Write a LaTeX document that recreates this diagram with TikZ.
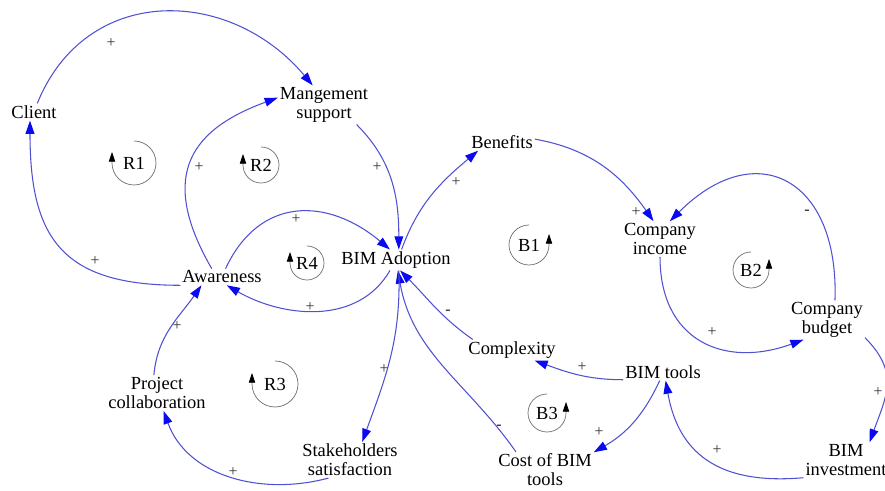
\documentclass[tikz,border=0pt]{standalone}
\usepackage{fontspec}
\setmainfont{Liberation Serif}
\usetikzlibrary{arrows.meta}

\definecolor{linkblue}{RGB}{80,80,210}
\definecolor{tipblue}{RGB}{10,10,240}
\definecolor{loopgray}{RGB}{110,110,110}

\begin{document}
\begin{tikzpicture}[x=0.2mm, y=0.2mm,
	var/.style={align=center, inner sep=1pt, font=\fontsize{10.5}{10.8}\selectfont},
	link/.style={draw=linkblue, line width=0.6pt, -{Triangle[length=7.5pt,width=5pt,color=tipblue]}},
	pol/.style={inner sep=0pt, font=\fontsize{9}{9}\selectfont, text=black!80},
	looplbl/.style={inner sep=0pt, font=\fontsize{10.5}{10.8}\selectfont},
	looparr/.style={draw=loopgray, line width=0.4pt, -{Triangle[length=5.5pt,width=3.6pt,color=black]}}]

	\useasboundingbox (0,0) rectangle (885,490);

	\node[var] (client) at (34,378) {Client};
	\node[var] (mgmt) at (324,385) {Mangement\\support};
	\node[var] (benefits) at (502,348) {Benefits};
	\node[var] (adopt) at (396,230) {BIM Adoption};
	\node[var] (aware) at (222,213) {Awareness};
	\node[var] (income) at (660,251) {Company\\income};
	\node[var] (budget) at (827,170) {Company\\budget};
	\node[var] (complex) at (512,140) {Complexity};
	\node[var] (tools) at (663,118) {BIM tools};
	\node[var] (collab) at (157,97) {Project\\collaboration};
	\node[var] (stake) at (350,30) {Stakeholders\\satisfaction};
	\node[var] (cost) at (545,20) {Cost of BIM\\tools};
	\node[var] (invest) at (846,30) {BIM\\investment};

	\draw[link] (client.69) to[out=68, in=130, looseness=1.2] (mgmt.120);
	\draw[link] (aware.south west) to[out=180, in=-90, looseness=1.35] (client.245);
	\draw[link] (aware.141) to[out=120, in=200, looseness=1.4] (mgmt.171);
	\draw[link] (mgmt.-31) to[out=-45, in=90] (adopt.75);
	\draw[link] (adopt.62) to[out=70, in=220] (benefits.200);
	\draw[link] (benefits.5) to[out=-10, in=125] (income.110);
	\draw[link] (budget.68) to[out=88, in=45, looseness=1.7] (income.61);
	\draw[link] (income.south) to[out=-90, in=200, looseness=1.3] (budget.220);
	\draw[link] (budget.-25) to[out=-45, in=70, looseness=1.2] (invest.37);
	\draw[link] (invest.south west) to[out=185, in=-80, looseness=1.2] (tools.-73);
	\draw[link] (tools.191) to[out=180, in=-20] (complex.-25);
	\draw[link] (tools.249) to[out=-115, in=30] (cost.20);
	\draw[link] (complex.165) to[out=145, in=-45] (adopt.-69);
	\draw[link] (cost.148) to[out=125, in=-80] (adopt.-80);
	\draw[link] (adopt.-75) to[out=-88, in=70] (stake.56);
	\draw[link] (stake.220) to[out=195, in=-70] (collab.-70);
	\draw[link] (collab.100) to[out=85, in=235] (aware.202);
	\draw[link] (aware.67) to[out=65, in=140, looseness=1.25] (adopt.120);
	\draw[link] (adopt.240) to[out=-120, in=-30] (aware.-60);

	\node[pol] (p1) at (111,447) {+};
	\node[pol] (p2) at (95,229) {+};
	\node[pol] (p3) at (199,323) {+};
	\node[pol] (p4) at (377,323) {+};
	\node[pol] (p5) at (456,308) {+};
	\node[pol] (p6) at (296,271) {+};
	\node[pol] (p7) at (310,183) {+};
	\node[pol] (p8) at (636,278) {+};
	\node[pol] (p9) at (807,278) {\bfseries -};
	\node[pol] (p10) at (712,158) {+};
	\node[pol] (p11) at (878,98) {+};
	\node[pol] (p12) at (717,40) {+};
	\node[pol] (p13) at (582,123) {+};
	\node[pol] (p14) at (599,58) {+};
	\node[pol] (p15) at (448,178) {\bfseries -};
	\node[pol] (p16) at (499,63) {\bfseries -};
	\node[pol] (p17) at (384,121) {+};
	\node[pol] (p18) at (233,18) {+};
	\node[pol] (p19) at (177,164) {+};

	\foreach \name/\x/\y/\r in {R1/134/327/22, R2/261/325/18, R4/307/227/17, R3/275/106/23} {
		\node[looplbl] (\name) at (\x,\y) {\name};
		\draw[looparr] (\name.center) ++(90:\r) arc[start angle=90, end angle=-180, radius=\r] -- ++(0,11);
	}
	\foreach \name/\x/\y/\r in {B1/529/245/20, B2/751/220/18, B3/547/77/19} {
		\node[looplbl] (\name) at (\x,\y) {\name};
		\draw[looparr] (\name.center) ++(90:\r) arc[start angle=90, end angle=360, radius=\r] -- ++(0,11);
	}

\end{tikzpicture}
\end{document}
